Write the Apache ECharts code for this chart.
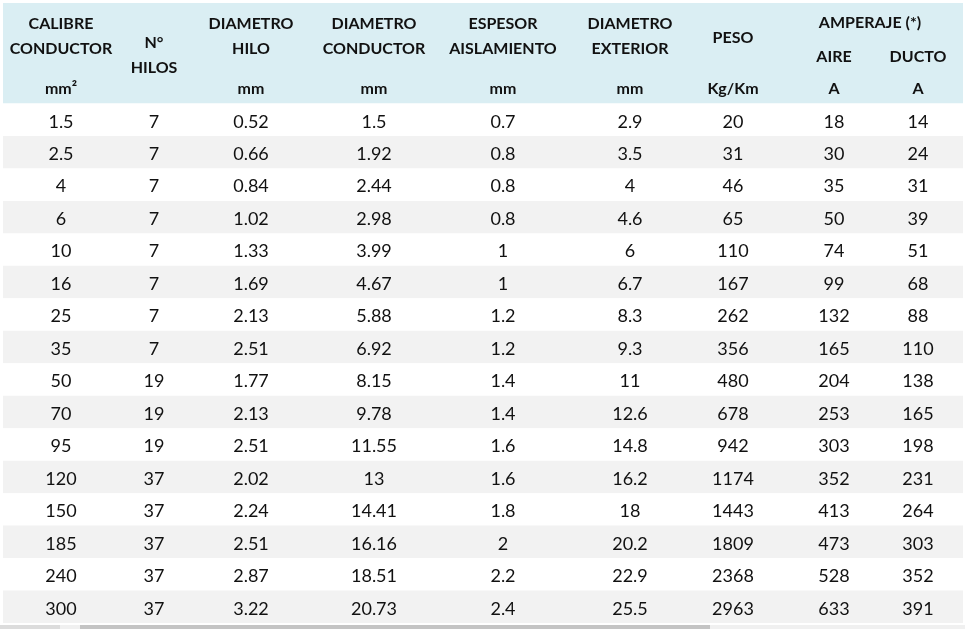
<!DOCTYPE html>
<html>
<head>
<meta charset="utf-8">
<script src="https://cdn.jsdelivr.net/npm/echarts@6/dist/echarts.min.js"></script>
<style>
  html, body { margin: 0; padding: 0; background: #fff; }
  #chart { width: 965px; height: 629px; }
</style>
</head>
<body>
<div id="chart"></div>
<script>
// column headers
var headerLines = [
    ['CALIBRE', 'CONDUCTOR'],
    ['N°', 'HILOS'],
    ['DIAMETRO', 'HILO'],
    ['DIAMETRO', 'CONDUCTOR'],
    ['ESPESOR', 'AISLAMIENTO'],
    ['DIAMETRO', 'EXTERIOR'],
    ['PESO'],
    ['AIRE'],
    ['DUCTO']
];
var headerUnits = ['mm²', '', 'mm', 'mm', 'mm', 'mm', 'Kg/Km', 'A', 'A'];
var groupTitle = 'AMPERAJE (*)';

// table values
var calibre = [1.5, 2.5, 4, 6, 10, 16, 25, 35, 50, 70, 95, 120, 150, 185, 240, 300];
var hilos = [7, 7, 7, 7, 7, 7, 7, 7, 19, 19, 19, 37, 37, 37, 37, 37];
var diamHilo = [0.52, 0.66, 0.84, 1.02, 1.33, 1.69, 2.13, 2.51, 1.77, 2.13, 2.51, 2.02, 2.24, 2.51, 2.87, 3.22];
var diamConductor = [1.5, 1.92, 2.44, 2.98, 3.99, 4.67, 5.88, 6.92, 8.15, 9.78, 11.55, 13, 14.41, 16.16, 18.51, 20.73];
var espesor = [0.7, 0.8, 0.8, 0.8, 1, 1, 1.2, 1.2, 1.4, 1.4, 1.6, 1.6, 1.8, 2, 2.2, 2.4];
var diamExterior = [2.9, 3.5, 4, 4.6, 6, 6.7, 8.3, 9.3, 11, 12.6, 14.8, 16.2, 18, 20.2, 22.9, 25.5];
var peso = [20, 31, 46, 65, 110, 167, 262, 356, 480, 678, 942, 1174, 1443, 1809, 2368, 2963];
var aire = [18, 30, 35, 50, 74, 99, 132, 165, 204, 253, 303, 352, 413, 473, 528, 633];
var ducto = [14, 24, 31, 39, 51, 68, 88, 110, 138, 165, 198, 231, 264, 303, 352, 391];

var columns = [calibre, hilos, diamHilo, diamConductor, espesor, diamExterior, peso, aire, ducto];

// layout (x positions of column centres along the 0..965 axis)
var colX = [61, 154, 251, 374, 503, 630, 733, 834, 918];
var tableLeft = 3;
var tableRight = 963;
var headerTop = 3;
var headerBottom = 103.5;
var fontFamily = 'Lato, "Open Sans", sans-serif';
var textColor = '#111111';

var rowIndex = calibre.map(function (v, i) { return String(i); });

var rowData = calibre.map(function (v, i) { return [0, i]; });
var cellData = [];
columns.forEach(function (col, c) {
    col.forEach(function (v, r) {
        cellData.push([colX[c], r, String(v)]);
    });
});

var chart = echarts.init(document.getElementById('chart'));

function headerGraphics() {
    var items = [{
        type: 'rect',
        shape: { x: tableLeft, y: headerTop, width: tableRight - tableLeft, height: headerBottom - headerTop },
        style: { fill: '#daeef3' },
        silent: true
    }];
    var boldText = function (text, x, y) {
        items.push({
            type: 'text',
            x: x,
            y: y,
            style: {
                text: text,
                align: 'center',
                verticalAlign: 'middle',
                fontFamily: fontFamily,
                fontWeight: 'bold',
                fontSize: 16,
                fill: textColor
            },
            silent: true
        });
    };
    headerLines.forEach(function (lines, c) {
        var x = colX[c];
        if (c === 1) {
            boldText(lines[0], x, 43);
            boldText(lines[1], x, 68);
        } else if (c === 6) {
            boldText(lines[0], x, 38);
        } else if (c >= 7) {
            boldText(lines[0], x, 57);
        } else {
            boldText(lines[0], x, 24);
            boldText(lines[1], x, 49);
        }
        if (headerUnits[c]) {
            boldText(headerUnits[c], x, 89);
        }
    });
    boldText(groupTitle, (colX[7] + colX[8]) / 2 - 6, 23);

    // scrollbar strip at the bottom
    items.push(
        { type: 'rect', shape: { x: 0, y: 625, width: 965, height: 4 }, style: { fill: '#f0f0f0' }, silent: true },
        { type: 'rect', shape: { x: 0, y: 625, width: 60, height: 4 }, style: { fill: '#dcdcdc' }, silent: true },
        { type: 'rect', shape: { x: 80, y: 625, width: 630, height: 4 }, style: { fill: '#c4c4c4' }, silent: true }
    );
    return items;
}

var option = {
    animation: false,
    backgroundColor: '#ffffff',
    grid: { left: 0, right: 0, top: headerBottom, bottom: 6, containLabel: false },
    xAxis: { type: 'value', min: 0, max: 965, show: false },
    yAxis: { type: 'category', data: rowIndex, inverse: true, show: false },
    graphic: headerGraphics(),
    series: [
        {
            type: 'custom',
            name: 'rows',
            silent: true,
            data: rowData,
            renderItem: function (params, api) {
                var r = api.value(1);
                var centre = api.coord([0, r]);
                var h = api.size([0, 1])[1];
                var left = api.coord([tableLeft, r])[0];
                var right = api.coord([tableRight, r])[0];
                return {
                    type: 'rect',
                    shape: { x: left, y: centre[1] - h / 2, width: right - left, height: h },
                    style: { fill: r % 2 === 1 ? '#f2f2f2' : '#ffffff' }
                };
            }
        },
        {
            type: 'custom',
            name: 'cells',
            silent: true,
            data: cellData,
            renderItem: function (params, api) {
                var p = api.coord([api.value(0), api.value(1)]);
                return {
                    type: 'text',
                    x: p[0],
                    y: p[1] + 2,
                    style: {
                        text: cellData[params.dataIndex][2],
                        align: 'center',
                        verticalAlign: 'middle',
                        fontFamily: fontFamily,
                        fontSize: 18,
                        fill: textColor
                    }
                };
            }
        }
    ]
};

chart.setOption(option);
</script>
</body>
</html>
